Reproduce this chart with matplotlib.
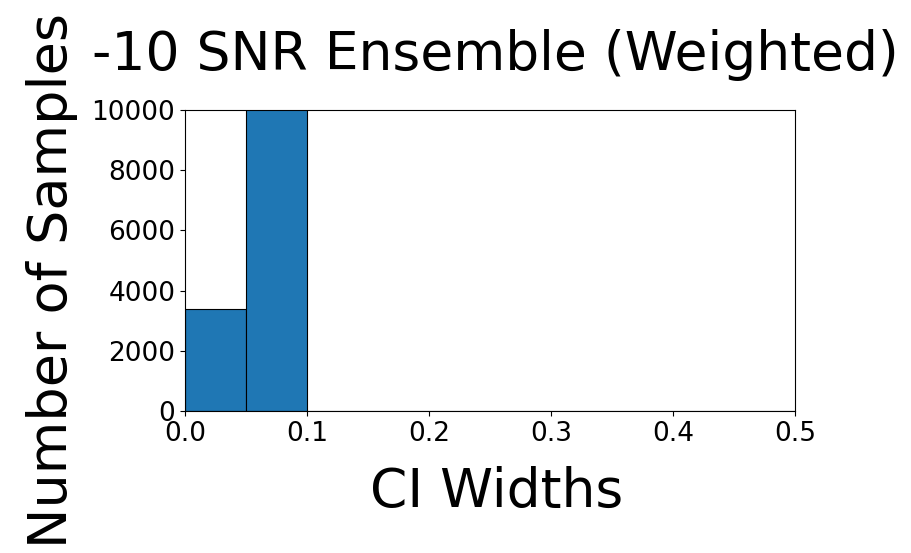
import numpy as np
import matplotlib
matplotlib.use("Agg")
import matplotlib.pyplot as plt

# histogram of CI widths
bin_edges = [0.0, 0.05, 0.1, 0.15, 0.2, 0.25, 0.3, 0.35, 0.4, 0.45, 0.5]
counts = [3400, 12000, 0, 0, 0, 0, 0, 0, 0, 0]

fig = plt.figure(figsize=(9.11, 5.53), dpi=100)
ax = fig.add_axes([0.203, 0.257, 0.67, 0.544])

ax.hist(bin_edges[:-1], bins=bin_edges, weights=counts,
        color="#1f77b4", edgecolor="black", linewidth=0.8)
ax.set_xlim(0, 0.5)
ax.set_ylim(0, 10000)
ax.set_xticks([0.0, 0.1, 0.2, 0.3, 0.4, 0.5])
ax.set_yticks([0, 2000, 4000, 6000, 8000, 10000])
ax.tick_params(labelsize=19)
ax.set_title("-10 SNR Ensemble (Weighted)", fontsize=38.5, pad=29, x=0.508)
ax.set_xlabel("CI Widths", fontsize=38.5, labelpad=14)
ax.set_ylabel("Number of Samples", fontsize=39, labelpad=10)
# labels sit a little off-centre in the original
ax.xaxis.label.set_x(0.511)
ax.yaxis.label.set_y(0.435)

fig.savefig("out.png", dpi=100)
